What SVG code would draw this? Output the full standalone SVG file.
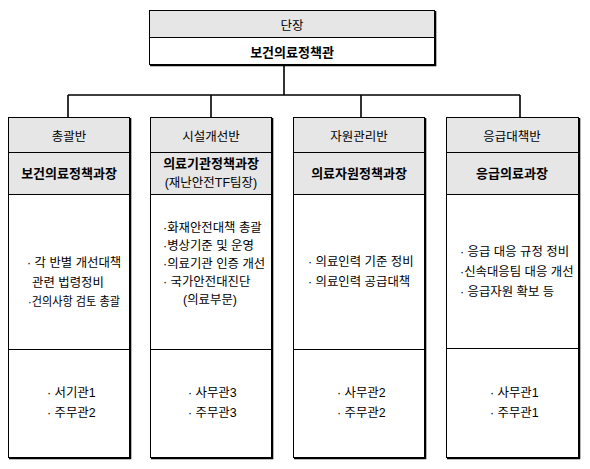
<svg xmlns="http://www.w3.org/2000/svg" width="590" height="469" viewBox="0 0 590 469">
<style>
.box{fill:#fff;stroke:#000;stroke-width:1}
.hd{fill:#e6e6e6;stroke:#000;stroke-width:1}
.sh{fill:none;stroke:#000;stroke-width:1.6}
.ln{fill:none;stroke:#000;stroke-width:1.6}
text{font-family:"Liberation Sans","Noto Sans CJK KR",sans-serif;fill:#000}
.t1{font-size:12.5px;text-anchor:middle}
.t2{font-size:13px;text-anchor:middle;font-weight:bold}
.b{font-size:12.4px}
.c{text-anchor:middle}
</style>
<rect width="590" height="469" fill="#fff"/>
<g id="connectors">
<path class="ln" d="M284,64 V95 M68,95 H520 M68,95 V117 M211,95 V117 M361,95 V117 M520,95 V117"/>
</g>
<g id="top">
<rect class="hd" x="149.5" y="10.5" width="285" height="27"/>
<rect class="box" x="149.5" y="37.5" width="285" height="27"/>
<path class="sh" d="M435.5,11 V65.5 H150"/>
<text class="t1" x="292" y="29.5">단장</text>
<text class="t2" x="292" y="56.5">보건의료정책관</text>
</g>
<g id="col1">
<rect class="hd" x="8.5" y="117.5" width="121" height="35"/>
<rect class="hd" x="8.5" y="152.5" width="121" height="42"/>
<rect class="box" x="8.5" y="194.5" width="121" height="155"/>
<rect class="box" x="8.5" y="349.5" width="121" height="108"/>
<path class="sh" d="M130.5,118 V458.5 H9"/>
<text class="t1" x="69" y="141">총괄반</text>
<text class="t2" x="69" y="177.5">보건의료정책과장</text>
<text class="b" x="27" y="267">· 각 반별 개선대책</text>
<text class="b" x="32" y="287">관련  법령정비</text>
<text class="b" x="28" y="306" textLength="92" lengthAdjust="spacingAndGlyphs">·건의사항 검토 총괄</text>
<text class="b" x="47" y="397">· 서기관1</text>
<text class="b" x="47" y="417">· 주무관2</text>
</g>
<g id="col2">
<rect class="hd" x="150.5" y="117.5" width="121" height="35"/>
<rect class="hd" x="150.5" y="152.5" width="121" height="42"/>
<rect class="box" x="150.5" y="194.5" width="121" height="155"/>
<rect class="box" x="150.5" y="349.5" width="121" height="108"/>
<path class="sh" d="M272.5,118 V458.5 H151"/>
<text class="t1" x="211" y="141">시설개선반</text>
<text class="t2" x="211" y="167.5">의료기관정책과장</text>
<text class="t1" x="211" y="186.5">(재난안전TF팀장)</text>
<text class="b" x="163" y="232">·화재안전대책 총괄</text>
<text class="b" x="163" y="250">·병상기준 및 운영</text>
<text class="b" x="163" y="268">·의료기관 인증 개선</text>
<text class="b" x="163" y="286">· 국가안전대진단</text>
<text class="b c" x="210" y="304">(의료부문)</text>
<text class="b" x="188" y="397">· 사무관3</text>
<text class="b" x="188" y="417">· 주무관3</text>
</g>
<g id="col3">
<rect class="hd" x="293.5" y="117.5" width="131" height="35"/>
<rect class="hd" x="293.5" y="152.5" width="131" height="42"/>
<rect class="box" x="293.5" y="194.5" width="131" height="155"/>
<rect class="box" x="293.5" y="349.5" width="131" height="108"/>
<path class="sh" d="M425.5,118 V458.5 H294"/>
<text class="t1" x="359" y="141">자원관리반</text>
<text class="t2" x="359" y="177.5">의료자원정책과장</text>
<text class="b" x="308" y="266">· 의료인력 기준 정비</text>
<text class="b" x="308" y="286">· 의료인력 공급대책</text>
<text class="b" x="337" y="397">· 사무관2</text>
<text class="b" x="337" y="417">· 주무관2</text>
</g>
<g id="col4">
<rect class="hd" x="446.5" y="117.5" width="132" height="35"/>
<rect class="hd" x="446.5" y="152.5" width="132" height="42"/>
<rect class="box" x="446.5" y="194.5" width="132" height="154"/>
<rect class="box" x="446.5" y="348.5" width="132" height="109"/>
<path class="sh" d="M579.5,118 V458.5 H447"/>
<text class="t1" x="512" y="141">응급대책반</text>
<text class="t2" x="512" y="177.5">응급의료과장</text>
<text class="b" x="460" y="256">· 응급 대응 규정 정비</text>
<text class="b" x="460" y="276">·신속대응팀 대응 개선</text>
<text class="b" x="460" y="296">· 응급자원 확보 등</text>
<text class="b" x="490" y="397">· 사무관1</text>
<text class="b" x="490" y="417">· 주무관1</text>
</g>
</svg>
